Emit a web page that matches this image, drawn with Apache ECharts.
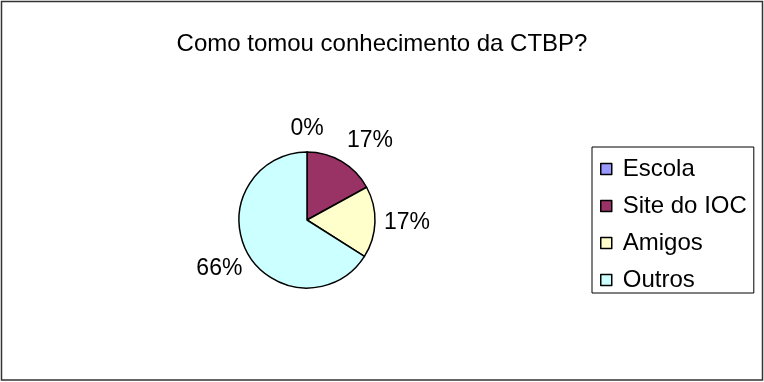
<!DOCTYPE html>
<html>
<head>
<meta charset="utf-8">
<script src="https://cdn.jsdelivr.net/npm/echarts@6/dist/echarts.min.js"></script>
<style>
  html, body { margin: 0; padding: 0; background: #fff; }
  #chart { width: 764px; height: 382px; }
</style>
</head>
<body>
<div id="chart"></div>
<script>
// Survey answers: how people heard about the CTBP
const categories = ['Escola', 'Site do IOC', 'Amigos', 'Outros'];
const shares = [0, 17, 17, 66];
const sliceColors = ['#9999FF', '#993366', '#FFFFCC', '#CCFFFF'];
const chartTitle = 'Como tomou conhecimento da CTBP?';

const FONT = '"Liberation Sans", Arial, sans-serif';

// small nudges (dx, dy) for the two labels at the top so they don't crowd each other
const labelNudge = [[0, 9], [12, 7], [0, 0], [0, 0]];

const pieData = categories.map((name, i) => ({
  name,
  value: shares[i],
  itemStyle: { color: sliceColors[i] }
}));

const labelData = categories.map((name, i) => ({ name, value: shares[i] }));

const chart = echarts.init(document.getElementById('chart'), null, { renderer: 'canvas' });

chart.setOption({
  backgroundColor: '#ffffff',
  animation: false,
  title: {
    text: chartTitle,
    left: 'center',
    top: 27,
    textStyle: { fontFamily: FONT, fontSize: 24, fontWeight: 'normal', color: '#000' }
  },
  legend: {
    orient: 'vertical',
    left: 592,
    top: 147,
    padding: [10, 7, 1, 8],
    borderColor: '#000',
    borderWidth: 1,
    icon: 'rect',
    itemWidth: 11,
    itemHeight: 11,
    itemGap: 13,
    data: categories,
    itemStyle: { borderColor: '#000', borderWidth: 1.5 },
    textStyle: { fontFamily: FONT, fontSize: 24, color: '#000', lineHeight: 24, padding: [0, 0, 0, 6] },
    selectedMode: false
  },
  graphic: [{
    type: 'rect',
    silent: true,
    shape: { x: 1.5, y: 1.5, width: 761, height: 378.5 },
    style: { fill: null, stroke: '#333', lineWidth: 1.5 }
  }],
  series: [
    {
      // the pie itself
      type: 'pie',
      center: [307, 220],
      radius: 68,
      startAngle: 90,
      clockwise: true,
      silent: true,
      data: pieData,
      itemStyle: { borderColor: '#000', borderWidth: 1.5 },
      label: { show: false },
      labelLine: { show: false }
    },
    {
      // transparent ring that carries the percentage labels just outside the pie
      type: 'pie',
      center: [307, 220],
      radius: 194,
      startAngle: 90,
      clockwise: true,
      silent: true,
      avoidLabelOverlap: false,
      data: labelData,
      itemStyle: { color: 'rgba(0,0,0,0)', borderWidth: 0 },
      label: {
        show: true,
        position: 'inside',
        formatter: '{d}%',
        fontFamily: FONT,
        fontSize: 23,
        color: '#000'
      },
      labelLayout: (p) => ({ dx: labelNudge[p.dataIndex][0], dy: labelNudge[p.dataIndex][1] }),
      labelLine: { show: false }
    }
  ]
});
</script>
</body>
</html>
